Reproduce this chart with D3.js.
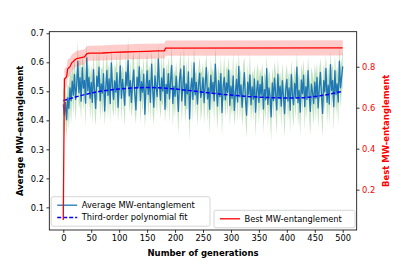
<!DOCTYPE html>
<html>
<head>
<meta charset="utf-8">
<script src="https://cdn.jsdelivr.net/npm/d3@7"></script>
<style>
  body { margin: 0; background: #fff; }
  svg { display: block; font-family: "DejaVu Sans", sans-serif; }
</style>
</head>
<body>
<div id="chart"></div>
<script>
// average MW-entanglement, one value every 2 generations (0..500)
var avgValues = [
  0.455,0.418,0.462,0.402,0.478,0.441,0.512,0.468,0.535,0.487,0.558,0.472,0.521,0.603,0.495,0.547,0.466,0.582,0.511,0.538,0.459,0.615,0.502,0.548,0.476,
  0.531,0.462,0.575,0.498,0.441,0.552,0.517,0.583,0.468,0.526,0.494,0.561,0.432,0.509,0.572,0.486,0.543,0.458,0.598,0.515,0.472,0.536,0.497,0.564,0.445,
  0.522,0.588,0.476,0.541,0.503,0.452,0.566,0.519,0.607,0.484,0.537,0.462,0.528,0.574,0.491,0.436,0.549,0.512,0.585,0.468,0.533,0.497,0.559,0.421,0.515,
  0.571,0.489,0.538,0.462,0.594,0.507,0.445,0.553,0.518,0.482,0.612,0.527,0.469,0.546,0.501,0.578,0.438,0.524,0.493,0.561,0.474,0.536,0.589,0.458,0.517,
  0.483,0.552,0.498,0.431,0.541,0.576,0.467,0.513,0.588,0.452,0.526,0.491,0.567,0.405,0.509,0.545,0.472,0.598,0.488,0.531,0.456,0.519,0.563,0.479,0.502,
  0.547,0.461,0.525,0.582,0.474,0.512,0.438,0.556,0.493,0.531,0.467,0.594,0.505,0.449,0.537,0.482,0.561,0.427,0.514,0.548,0.471,0.529,0.496,0.573,0.452,
  0.518,0.476,0.553,0.434,0.497,0.541,0.463,0.586,0.481,0.522,0.445,0.509,0.564,0.471,0.418,0.532,0.489,0.557,0.454,0.515,0.473,0.543,0.428,0.501,0.536,
  0.462,0.524,0.487,0.551,0.439,0.506,0.471,0.578,0.455,0.512,0.483,0.412,0.529,0.468,0.545,0.493,0.436,0.559,0.477,0.518,0.449,0.537,0.481,0.423,0.506,
  0.541,0.467,0.512,0.435,0.558,0.488,0.454,0.527,0.479,0.583,0.461,0.503,0.428,0.539,0.492,0.556,0.447,0.516,0.472,0.571,0.484,0.431,0.525,0.496,0.458,
  0.532,0.476,0.548,0.443,0.509,0.565,0.487,0.424,0.537,0.498,0.579,0.462,0.521,0.456,0.592,0.503,0.538,0.447,0.571,0.489,0.526,0.463,0.604,0.512,0.548,
  0.586
];
// spread (std) of the average, same generations
var avgStd = [
  0.062,0.078,0.055,0.071,0.049,0.074,0.058,0.083,0.052,0.067,0.061,0.079,0.047,0.072,0.056,0.085,0.063,0.050,0.075,0.060,0.081,0.054,0.068,0.048,0.073,
  0.058,0.077,0.052,0.070,0.061,0.084,0.048,0.066,0.074,0.055,0.080,0.063,0.050,0.071,0.059,0.086,0.054,0.069,0.049,0.076,0.062,0.057,0.082,0.065,0.051,
  0.072,0.056,0.083,0.050,0.065,0.075,0.059,0.046,0.079,0.062,0.070,0.053,0.085,0.060,0.068,0.049,0.078,0.058,0.064,0.081,0.052,0.072,0.061,0.047,0.076,
  0.060,0.080,0.053,0.069,0.048,0.084,0.063,0.074,0.057,0.066,0.050,0.078,0.061,0.082,0.054,0.071,0.046,0.075,0.064,0.058,0.083,0.052,0.068,0.079,0.059,
  0.074,0.049,0.066,0.081,0.057,0.063,0.077,0.047,0.071,0.061,0.084,0.055,0.069,0.079,0.050,0.064,0.080,0.059,0.072,0.048,0.078,0.062,0.056,0.083,0.067,
  0.054,0.075,0.061,0.048,0.080,0.066,0.085,0.058,0.070,0.051,0.078,0.060,0.072,0.082,0.053,0.068,0.062,0.084,0.049,0.074,0.065,0.057,0.079,0.047,0.071,
  0.069,0.059,0.083,0.052,0.077,0.062,0.072,0.048,0.080,0.056,0.066,0.086,0.054,0.070,0.081,0.061,0.050,0.078,0.064,0.058,0.075,0.049,0.085,0.067,0.060,
  0.078,0.057,0.066,0.050,0.084,0.063,0.071,0.047,0.081,0.060,0.074,0.083,0.053,0.068,0.059,0.079,0.086,0.054,0.070,0.049,0.077,0.062,0.065,0.082,0.056,
  0.052,0.073,0.060,0.080,0.048,0.069,0.079,0.058,0.075,0.050,0.082,0.064,0.085,0.057,0.071,0.054,0.081,0.061,0.067,0.047,0.078,0.084,0.059,0.066,0.074,
  0.063,0.081,0.053,0.074,0.066,0.049,0.078,0.084,0.058,0.070,0.048,0.080,0.061,0.075,0.046,0.067,0.059,0.083,0.054,0.072,0.062,0.079,0.051,0.069,0.057,
  0.066
];
var avgGens = d3.range(0, 501, 2);

// third-order polynomial fit
var fitGens   = [0, 50, 100, 150, 200, 250, 300, 350, 400, 450, 500];
var fitValues = [0.468, 0.494, 0.508, 0.513, 0.508, 0.497, 0.487, 0.480, 0.477, 0.482, 0.500];

// best MW-entanglement (right axis)
var bestGens   = [0, 2, 4, 6, 8, 10, 12, 14, 16, 18, 20, 24, 28, 32, 38, 42, 46, 70, 90, 110, 130, 150, 170, 181, 183, 500];
var bestValues = [0.052, 0.740, 0.745, 0.752, 0.790, 0.795, 0.800, 0.812, 0.822, 0.825, 0.832, 0.840, 0.842, 0.845, 0.848, 0.863, 0.866, 0.867, 0.870, 0.872, 0.874, 0.875, 0.877, 0.877, 0.891, 0.892];
var bestStd    = [0.010, 0.050, 0.050, 0.048, 0.046, 0.044, 0.042, 0.040, 0.040, 0.039, 0.038, 0.038, 0.037, 0.037, 0.037, 0.037, 0.037, 0.037, 0.037, 0.037, 0.037, 0.037, 0.037, 0.037, 0.037, 0.037];

var xTicks = [0, 50, 100, 150, 200, 250, 300, 350, 400, 450, 500];
var leftTicks = [0.1, 0.2, 0.3, 0.4, 0.5, 0.6, 0.7];
var rightTicks = [0.2, 0.4, 0.6, 0.8];

var W = 397, H = 264;
var plot = {left: 49.3, right: 356.7, top: 31.7, bottom: 230};

var svg = d3.select('#chart').append('svg')
    .attr('width', W).attr('height', H);

var x = d3.scaleLinear().domain([-25, 525]).range([plot.left, plot.right]);
var yL = d3.scaleLinear().domain([0.022, 0.7055]).range([plot.bottom, plot.top]);
var yR = d3.scaleLinear().domain([0.003, 0.971]).range([plot.bottom, plot.top]);

var avgData = avgGens.map(function(g, i){ return {g: g, v: avgValues[i], s: avgStd[i]}; });
var fitData = fitGens.map(function(g, i){ return {g: g, v: fitValues[i]}; });
var bestData = bestGens.map(function(g, i){ return {g: g, v: bestValues[i], s: bestStd[i]}; });

svg.append('clipPath').attr('id', 'plotclip')
    .append('rect')
    .attr('x', plot.left).attr('y', plot.top)
    .attr('width', plot.right - plot.left).attr('height', plot.bottom - plot.top);

var inner = svg.append('g').attr('clip-path', 'url(#plotclip)');

// green band
inner.append('path')
    .datum(avgData)
    .attr('fill', '#2ca02c').attr('fill-opacity', 0.3)
    .attr('d', d3.area()
        .x(function(d){ return x(d.g); })
        .y0(function(d){ return yL(d.v - d.s); })
        .y1(function(d){ return yL(d.v + d.s); }));

// average line
inner.append('path')
    .datum(avgData)
    .attr('fill', 'none').attr('stroke', '#1f77b4').attr('stroke-width', 1.3)
    .attr('stroke-linejoin', 'round')
    .attr('d', d3.line()
        .x(function(d){ return x(d.g); })
        .y(function(d){ return yL(d.v); }));

// polynomial fit
inner.append('path')
    .datum(fitData)
    .attr('fill', 'none').attr('stroke', '#0000ff').attr('stroke-width', 1.5)
    .attr('stroke-dasharray', '4,2')
    .attr('d', d3.line().curve(d3.curveNatural)
        .x(function(d){ return x(d.g); })
        .y(function(d){ return yL(d.v); }));

function drawLegend(g, bx, by, bw, bh, items){
    g.append('rect')
        .attr('x', bx).attr('y', by).attr('width', bw).attr('height', bh)
        .attr('rx', 2).attr('fill', '#fff').attr('fill-opacity', 0.8)
        .attr('stroke', '#cccccc').attr('stroke-width', 0.8);
    items.forEach(function(it, i){
        var cy = by + 8.5 + i * 12.3;
        g.append('line')
            .attr('x1', bx + 6).attr('x2', bx + 26)
            .attr('y1', cy).attr('y2', cy)
            .attr('stroke', it.color).attr('stroke-width', it.width)
            .attr('stroke-dasharray', it.dash ? it.dash : null);
        g.append('text')
            .attr('x', bx + 30.5).attr('y', cy).attr('dy', '0.35em')
            .attr('font-size', '8.3px').attr('fill', '#000')
            .text(it.label);
    });
}

drawLegend(svg.append('g'), 51.2, 196.7, 158.8, 29.5, [
    {label: 'Average MW-entanglement', color: '#1f77b4', width: 1.3},
    {label: 'Third-order polynomial fit', color: '#0000ff', width: 1.3, dash: '4,2'}
]);

// best (twin axis, drawn on top)
var inner2 = svg.append('g').attr('clip-path', 'url(#plotclip)');
inner2.append('path')
    .datum(bestData)
    .attr('fill', '#ff0000').attr('fill-opacity', 0.2)
    .attr('d', d3.area()
        .x(function(d){ return x(d.g); })
        .y0(function(d){ return yR(d.v - d.s); })
        .y1(function(d){ return yR(d.v + d.s); }));
inner2.append('path')
    .datum(bestData)
    .attr('fill', 'none').attr('stroke', '#ff0000').attr('stroke-width', 1.3)
    .attr('d', d3.line()
        .x(function(d){ return x(d.g); })
        .y(function(d){ return yR(d.v); }));

drawLegend(svg.append('g'), 214, 210.3, 141, 17.5, [
    {label: 'Best MW-entanglement', color: '#ff0000', width: 1.3}
]);

// spines
svg.append('rect')
    .attr('x', plot.left).attr('y', plot.top)
    .attr('width', plot.right - plot.left).attr('height', plot.bottom - plot.top)
    .attr('fill', 'none').attr('stroke', '#000').attr('stroke-width', 0.8);

var xAxis = svg.append('g').attr('transform', 'translate(0,' + plot.bottom + ')')
    .call(d3.axisBottom(x).tickValues(xTicks).tickSize(2.8).tickPadding(2.5));
var lAxis = svg.append('g').attr('transform', 'translate(' + plot.left + ',0)')
    .call(d3.axisLeft(yL).tickValues(leftTicks).tickSize(2.8).tickPadding(2.5).tickFormat(d3.format('.1f')));
var rAxis = svg.append('g').attr('transform', 'translate(' + plot.right + ',0)')
    .call(d3.axisRight(yR).tickValues(rightTicks).tickSize(2.8).tickPadding(2.5).tickFormat(d3.format('.1f')));

[xAxis, lAxis, rAxis].forEach(function(a){
    a.select('.domain').remove();
    a.selectAll('text').attr('font-size', '8.3px').attr('font-family', '"DejaVu Sans", sans-serif');
    a.selectAll('line').attr('stroke-width', 0.8);
});
xAxis.selectAll('text').attr('fill', '#000');
lAxis.selectAll('text').attr('fill', '#000');
rAxis.selectAll('text').attr('fill', '#ff0000');

// labels
svg.append('text')
    .attr('x', (plot.left + plot.right) / 2).attr('y', 253.5)
    .attr('text-anchor', 'middle').attr('dy', '0.35em')
    .attr('font-size', '8.5px').attr('font-weight', 'bold')
    .text('Number of generations');

svg.append('text')
    .attr('transform', 'translate(20.5,' + ((plot.top + plot.bottom) / 2) + ') rotate(-90)')
    .attr('text-anchor', 'middle').attr('dy', '0.35em')
    .attr('font-size', '8.5px').attr('font-weight', 'bold')
    .text('Average MW-entanglement');

svg.append('text')
    .attr('transform', 'translate(386.5,' + ((plot.top + plot.bottom) / 2) + ') rotate(-90)')
    .attr('text-anchor', 'middle').attr('dy', '0.35em')
    .attr('font-size', '8.5px').attr('font-weight', 'bold').attr('fill', '#ff0000')
    .text('Best MW-entanglement');
</script>
</body>
</html>
